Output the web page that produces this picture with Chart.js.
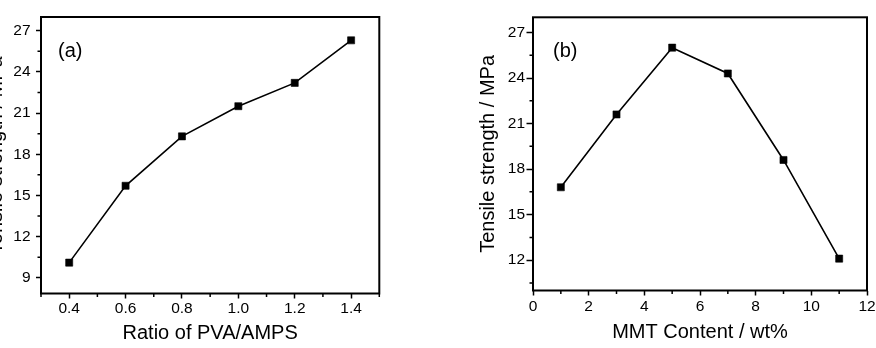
<!DOCTYPE html>
<html>
<head>
<meta charset="utf-8">
<script src="https://cdn.jsdelivr.net/npm/chart.js@4/dist/chart.umd.min.js"></script>
<style>
  html, body { margin: 0; padding: 0; background: #ffffff; }
  body { width: 876px; height: 348px; position: relative; overflow: hidden; }
  canvas { position: absolute; top: 0; }
  #cA { left: -52px; }
  #cB { left: 440px; }
</style>
</head>
<body>
<canvas id="cA" width="440" height="348"></canvas>
<canvas id="cB" width="436" height="348"></canvas>
<script>
// ---------- data: panel (a) ----------
const ratioPVA_AMPS = [0.4, 0.6, 0.8, 1.0, 1.2, 1.4];
const strengthA = [10.1, 15.7, 19.3, 21.5, 23.2, 26.3];
const xTicksA = [0.4, 0.6, 0.8, 1.0, 1.2, 1.4];
const xTickLabelsA = ['0.4', '0.6', '0.8', '1.0', '1.2', '1.4'];
const yTicksA = [9, 12, 15, 18, 21, 24, 27];
const xMinorA = [0.3, 0.5, 0.7, 0.9, 1.1, 1.3, 1.5];
const yMinorA = [10.5, 13.5, 16.5, 19.5, 22.5, 25.5];

// ---------- data: panel (b) ----------
const mmtContent = [1, 3, 5, 7, 9, 11];
const strengthB = [16.8, 21.6, 26.0, 24.3, 18.6, 12.1];
const xTicksB = [0, 2, 4, 6, 8, 10, 12];
const yTicksB = [12, 15, 18, 21, 24, 27];
const xMinorB = [1, 3, 5, 7, 9, 11];
const yMinorB = [10.5, 13.5, 16.5, 19.5, 22.5, 25.5];

const FONT = 'Arial, "Liberation Sans", sans-serif';
const TICK_SIZE = 15.5;

const panelPlugin = {
  id: 'panel',
  afterDraw(chart, args, opts) {
    const ctx = chart.ctx;
    const a = chart.chartArea;
    const xs = chart.scales.x, ys = chart.scales.y;
    ctx.save();
    ctx.strokeStyle = '#000';
    ctx.lineWidth = 2;
    ctx.strokeRect(a.left, a.top, a.right - a.left, a.bottom - a.top);
    ctx.lineWidth = 1.5;
    ctx.beginPath();
    (opts.minorX || []).forEach(v => {
      const px = xs.getPixelForValue(v);
      ctx.moveTo(px, a.bottom);
      ctx.lineTo(px, a.bottom + 3.5);
    });
    (opts.minorY || []).forEach(v => {
      const py = ys.getPixelForValue(v);
      ctx.moveTo(a.left, py);
      ctx.lineTo(a.left - 3.5, py);
    });
    ctx.stroke();
    ctx.fillStyle = '#000';
    ctx.font = '20px ' + FONT;
    ctx.textAlign = 'left';
    ctx.textBaseline = 'middle';
    ctx.fillText(opts.label, a.left + opts.dx, a.top + opts.dy);
    ctx.restore();
  }
};

function makeChart(id, xs, ys, p) {
  const points = xs.map((x, i) => ({ x: x, y: ys[i] }));
  return new Chart(document.getElementById(id), {
    type: 'line',
    data: {
      datasets: [{
        data: points,
        borderColor: '#000',
        borderWidth: 1.6,
        backgroundColor: '#000',
        pointStyle: 'rect',
        pointRadius: 5,
        pointBorderWidth: 0.6,
        pointBackgroundColor: '#000',
        pointBorderColor: '#000',
        tension: 0,
        fill: false
      }]
    },
    options: {
      responsive: false,
      animation: false,
      events: [],
      layout: { padding: { left: 0, right: p.padRight, top: p.padTop, bottom: 0 } },
      plugins: {
        legend: { display: false },
        tooltip: { enabled: false },
        panel: { label: p.label, minorX: p.minorX, minorY: p.minorY, dx: p.labelDx, dy: p.labelDy }
      },
      scales: {
        x: {
          type: 'linear',
          position: 'bottom',
          min: p.xMin, max: p.xMax,
          afterBuildTicks: s => { s.ticks = p.xTicks.map(v => ({ value: v })); },
          afterFit: s => { s.height = p.xHeight; s.paddingLeft = 0; s.paddingRight = 0; },
          border: { display: false },
          grid: { drawOnChartArea: false, drawTicks: true, tickLength: p.xTickLen, tickColor: '#000', tickWidth: 1.5 },
          ticks: {
            color: '#000', padding: p.xTickPad, maxRotation: 0, autoSkip: false,
            font: { family: FONT, size: TICK_SIZE },
            callback: v => { const i = p.xTicks.indexOf(v); return p.xLabels ? p.xLabels[i] : String(v); }
          },
          title: { display: true, text: p.xTitle, color: '#000', font: { family: FONT, size: 20 }, padding: { top: 0, bottom: p.xTitlePad } }
        },
        y: {
          type: 'linear',
          position: 'left',
          min: p.yMin, max: p.yMax,
          afterBuildTicks: s => { s.ticks = p.yTicks.map(v => ({ value: v })); },
          afterFit: s => { s.width = p.yWidth; s.paddingTop = 0; s.paddingBottom = 0; },
          border: { display: false },
          grid: { drawOnChartArea: false, drawTicks: true, tickLength: p.yTickLen, tickColor: '#000', tickWidth: 1.5 },
          ticks: {
            color: '#000', padding: p.yTickPad, autoSkip: false,
            font: { family: FONT, size: TICK_SIZE },
            callback: v => String(v)
          },
          title: { display: true, text: 'Tensile strength / MPa', color: '#000', font: { family: FONT, size: 20 }, padding: { top: 36.8, bottom: 0 } }
        }
      }
    },
    plugins: [panelPlugin]
  });
}

makeChart('cA', ratioPVA_AMPS, strengthA, {
  label: '(a)', labelDx: 17, labelDy: 34,
  minorX: xMinorA, minorY: yMinorA,
  xMin: 0.3, xMax: 1.5, yMin: 7.85, yMax: 28,
  xTicks: xTicksA, xLabels: xTickLabelsA, yTicks: yTicksA,
  xTitle: 'Ratio of PVA/AMPS',
  padRight: 8.7, padTop: 17, xHeight: 54.5, yWidth: 93,
  xTickLen: 5, xTickPad: 0.6, yTickLen: 5, yTickPad: 5.5, xTitlePad: 2.7
});

makeChart('cB', mmtContent, strengthB, {
  label: '(b)', labelDx: 20, labelDy: 34,
  minorX: xMinorB, minorY: yMinorB,
  xMin: 0, xMax: 12, yMin: 10, yMax: 28,
  xTicks: xTicksB, xLabels: null, yTicks: yTicksB,
  xTitle: 'MMT Content / wt%',
  padRight: 9, padTop: 17.3, xHeight: 57.5, yWidth: 93,
  xTickLen: 5, xTickPad: 2.4, yTickLen: 6.5, yTickPad: 1.5, xTitlePad: 3.8
});
</script>
</body>
</html>
